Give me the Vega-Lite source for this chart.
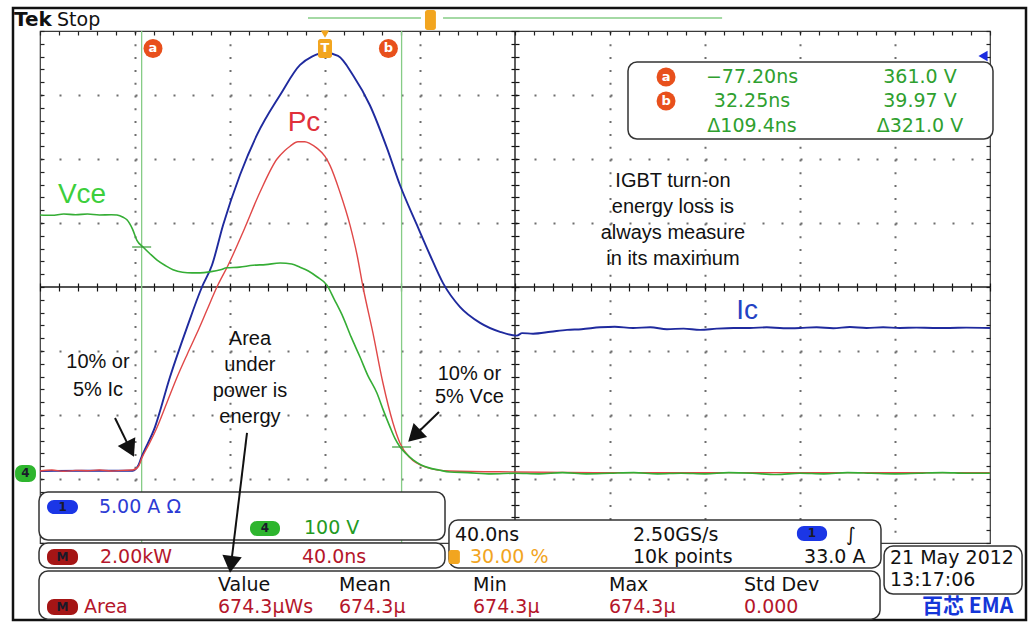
{
  "$schema": "https://vega.github.io/schema/vega-lite/v6.json",
  "width": 950,
  "height": 512,
  "autosize": {"type": "none"},
  "padding": {"left": 40, "top": 31, "right": 42, "bottom": 87},
  "background": "#ffffff",
  "config": {
    "view": {"stroke": "#3a3a3a", "strokeWidth": 1.2},
    "font": "DejaVu Sans",
    "axis": {"title": null, "labels": false, "domain": false, "grid": false, "ticks": true, "tickColor": "#222222", "tickWidth": 1.2, "tickSize": 5}
  },
  "resolve": {"axis": {"x": "independent", "y": "independent"}},
  "datasets": {
    "ic": [
      {"t": -120, "d": -2.875}, {"t": -100, "d": -2.87}, {"t": -81, "d": -2.87}, {"t": -78.5, "d": -2.78}, {"t": -77.5, "d": -2.68},
      {"t": -71.6, "d": -2.19}, {"t": -65.3, "d": -1.41}, {"t": -58.1, "d": -0.63}, {"t": -51.8, "d": 0}, {"t": -47.6, "d": 0.34},
      {"t": -42.9, "d": 0.97}, {"t": -35.8, "d": 1.75}, {"t": -28.6, "d": 2.38}, {"t": -18.9, "d": 3.0}, {"t": -10.5, "d": 3.47},
      {"t": -5.5, "d": 3.6}, {"t": 0, "d": 3.66}, {"t": 5.5, "d": 3.61}, {"t": 11.8, "d": 3.31}, {"t": 18.9, "d": 2.84},
      {"t": 26.1, "d": 2.17}, {"t": 31.6, "d": 1.59}, {"t": 38.7, "d": 0.97}, {"t": 44.2, "d": 0.5}, {"t": 49.7, "d": 0.06},
      {"t": 56.8, "d": -0.31}, {"t": 65.3, "d": -0.56}, {"t": 73.7, "d": -0.7}, {"t": 80.8, "d": -0.76}, {"t": 83, "d": -0.72},
      {"t": 87.6, "d": -0.73}, {"t": 95, "d": -0.7}, {"t": 101.9, "d": -0.67}, {"t": 108, "d": -0.66}, {"t": 115.8, "d": -0.63},
      {"t": 122, "d": -0.62}, {"t": 129.7, "d": -0.64}, {"t": 137, "d": -0.63}, {"t": 144, "d": -0.66}, {"t": 151, "d": -0.65},
      {"t": 157.9, "d": -0.67}, {"t": 165, "d": -0.65}, {"t": 172, "d": -0.64}, {"t": 178.9, "d": -0.64}, {"t": 186, "d": -0.63},
      {"t": 193, "d": -0.645}, {"t": 200, "d": -0.64}, {"t": 207, "d": -0.63}, {"t": 214, "d": -0.645}, {"t": 221, "d": -0.625},
      {"t": 228, "d": -0.64}, {"t": 235, "d": -0.63}, {"t": 242, "d": -0.64}, {"t": 249, "d": -0.635}, {"t": 256, "d": -0.64},
      {"t": 263, "d": -0.64}, {"t": 270, "d": -0.635}, {"t": 280, "d": -0.64}
    ],
    "pc": [
      {"t": -120, "d": -2.875}, {"t": -115, "d": -2.86}, {"t": -110, "d": -2.88}, {"t": -105, "d": -2.865}, {"t": -100, "d": -2.87},
      {"t": -95, "d": -2.86}, {"t": -90, "d": -2.875}, {"t": -85, "d": -2.865}, {"t": -81, "d": -2.86}, {"t": -78.5, "d": -2.8},
      {"t": -77.1, "d": -2.67}, {"t": -74, "d": -2.45}, {"t": -70.7, "d": -2.19}, {"t": -66.5, "d": -1.8}, {"t": -62.3, "d": -1.41},
      {"t": -58, "d": -1.05}, {"t": -53.9, "d": -0.72}, {"t": -49.7, "d": -0.36}, {"t": -45.5, "d": 0}, {"t": -40.8, "d": 0.34},
      {"t": -34.5, "d": 0.86}, {"t": -27.4, "d": 1.48}, {"t": -20.2, "d": 2.0}, {"t": -17, "d": 2.13}, {"t": -14.7, "d": 2.2},
      {"t": -11.4, "d": 2.27}, {"t": -8.5, "d": 2.27}, {"t": -6.3, "d": 2.24}, {"t": -3.4, "d": 2.17}, {"t": 0, "d": 2.04},
      {"t": 2.1, "d": 1.9}, {"t": 6.3, "d": 1.48}, {"t": 10.5, "d": 0.97}, {"t": 13.5, "d": 0.5}, {"t": 16, "d": 0},
      {"t": 20.2, "d": -0.72}, {"t": 24.4, "d": -1.5}, {"t": 28.6, "d": -2.12}, {"t": 31.6, "d": -2.44}, {"t": 35.8, "d": -2.67},
      {"t": 42.1, "d": -2.81}, {"t": 52.6, "d": -2.875}, {"t": 80, "d": -2.89}, {"t": 120, "d": -2.9}, {"t": 160, "d": -2.9},
      {"t": 200, "d": -2.9}, {"t": 240, "d": -2.9}, {"t": 280, "d": -2.9}
    ],
    "vce": [
      {"t": -120, "d": 1.125}, {"t": -115, "d": 1.12}, {"t": -110, "d": 1.14}, {"t": -105, "d": 1.13}, {"t": -100, "d": 1.14},
      {"t": -95, "d": 1.125}, {"t": -90, "d": 1.13}, {"t": -87.6, "d": 1.125}, {"t": -85, "d": 1.09}, {"t": -83.4, "d": 1.05},
      {"t": -81, "d": 0.9}, {"t": -79.2, "d": 0.73}, {"t": -76.6, "d": 0.625}, {"t": -73.7, "d": 0.52}, {"t": -70.7, "d": 0.42},
      {"t": -67, "d": 0.33}, {"t": -64, "d": 0.27}, {"t": -60, "d": 0.23}, {"t": -56, "d": 0.22}, {"t": -52.6, "d": 0.22},
      {"t": -48, "d": 0.24}, {"t": -44, "d": 0.27}, {"t": -41.3, "d": 0.3}, {"t": -36, "d": 0.31}, {"t": -30.3, "d": 0.34},
      {"t": -25, "d": 0.35}, {"t": -18.9, "d": 0.375}, {"t": -14, "d": 0.36}, {"t": -10.5, "d": 0.31}, {"t": -7, "d": 0.25},
      {"t": -3.4, "d": 0.16}, {"t": 0.8, "d": 0.03}, {"t": 4, "d": -0.2}, {"t": 7.6, "d": -0.47}, {"t": 11, "d": -0.78},
      {"t": 14.7, "d": -1.09}, {"t": 18, "d": -1.38}, {"t": 21.9, "d": -1.66}, {"t": 24.5, "d": -1.92}, {"t": 27.4, "d": -2.19},
      {"t": 29.5, "d": -2.37}, {"t": 31.6, "d": -2.5}, {"t": 34, "d": -2.6}, {"t": 37.1, "d": -2.7}, {"t": 40.5, "d": -2.78},
      {"t": 44.2, "d": -2.83}, {"t": 48, "d": -2.86}, {"t": 52.6, "d": -2.89}, {"t": 60, "d": -2.9}, {"t": 70, "d": -2.92},
      {"t": 80, "d": -2.91}, {"t": 90, "d": -2.92}, {"t": 100, "d": -2.9}, {"t": 110, "d": -2.92}, {"t": 120, "d": -2.91},
      {"t": 130, "d": -2.9}, {"t": 140, "d": -2.92}, {"t": 150, "d": -2.91}, {"t": 160, "d": -2.92}, {"t": 170, "d": -2.9},
      {"t": 180, "d": -2.91}, {"t": 190, "d": -2.93}, {"t": 200, "d": -2.91}, {"t": 210, "d": -2.92}, {"t": 220, "d": -2.9},
      {"t": 230, "d": -2.91}, {"t": 240, "d": -2.92}, {"t": 250, "d": -2.91}, {"t": 260, "d": -2.9}, {"t": 270, "d": -2.91},
      {"t": 280, "d": -2.91}
    ]
  },
  "layer": [
    {
      "data": {"values": [{"t1": -131.37, "t2": 295.16, "d1": 4.359, "d2": -5.203}]},
      "mark": {"type": "rect", "fill": "#ffffff", "fillOpacity": 0, "stroke": "#111111", "strokeWidth": 2.5},
      "encoding": {
        "x": {"field": "t1", "type": "quantitative", "scale": {"domain": [-120, 280], "nice": false, "zero": false}, "axis": null},
        "x2": {"field": "t2"},
        "y": {"field": "d1", "type": "quantitative", "scale": {"domain": [-4, 4], "nice": false, "zero": false}, "axis": null},
        "y2": {"field": "d2"}
      }
    },
    {
      "data": {"values": [{"t1": -7.16, "t2": 40.4, "d1": 4.203, "d2": 4.203}, {"t1": 49.7, "t2": 167.2, "d1": 4.203, "d2": 4.203}]},
      "mark": {"type": "rule", "color": "#86cc86", "strokeWidth": 1.5},
      "encoding": {
        "x": {"field": "t1", "type": "quantitative", "scale": {"domain": [-120, 280], "nice": false, "zero": false}, "axis": null},
        "x2": {"field": "t2"},
        "y": {"field": "d1", "type": "quantitative", "scale": {"domain": [-4, 4], "nice": false, "zero": false}, "axis": null},
        "y2": {"field": "d2"}
      }
    },
    {
      "data": {"values": [{"t1": -120, "t2": 280, "d1": 0, "d2": 0}, {"t1": 80, "t2": 80, "d1": 4, "d2": -4}]},
      "mark": {"type": "rule", "color": "#1a1a1a", "strokeWidth": 1.4},
      "encoding": {
        "x": {"field": "t1", "type": "quantitative", "scale": {"domain": [-120, 280], "nice": false, "zero": false}, "axis": null},
        "x2": {"field": "t2"},
        "y": {"field": "d1", "type": "quantitative", "scale": {"domain": [-4, 4], "nice": false, "zero": false},
          "axis": {"orient": "left", "offset": -475, "ticks": true, "tickSize": 4, "tickColor": "#111111", "labels": false, "domain": false, "grid": false, "title": null,
            "values": [-4,-3.8,-3.6,-3.4,-3.2,-3,-2.8,-2.6,-2.4,-2.2,-2,-1.8,-1.6,-1.4,-1.2,-1,-0.8,-0.6,-0.4,-0.2,0,0.2,0.4,0.6,0.8,1,1.2,1.4,1.6,1.8,2,2.2,2.4,2.6,2.8,3,3.2,3.4,3.6,3.8,4]}},
        "y2": {"field": "d2"}
      }
    },
    {
      "data": {"values": [{"t1": -77.2, "t2": -77.2, "d1": 4, "d2": -4}, {"t1": 32.25, "t2": 32.25, "d1": 4, "d2": -4}]},
      "mark": {"type": "rule", "color": "#86cc86", "strokeWidth": 1.3},
      "encoding": {
        "x": {"field": "t1", "type": "quantitative", "scale": {"domain": [-120, 280], "nice": false, "zero": false},
          "axis": {"orient": "top", "offset": -256, "ticks": true, "tickSize": 4, "tickColor": "#111111", "labels": false, "domain": false, "grid": false, "title": null,
            "values": [-120,-112,-104,-96,-88,-80,-72,-64,-56,-48,-40,-32,-24,-16,-8,0,8,16,24,32,40,48,56,64,72,80,88,96,104,112,120,128,136,144,152,160,168,176,184,192,200,208,216,224,232,240,248,256,264,272,280]}},
        "x2": {"field": "t2"},
        "y": {"field": "d1", "type": "quantitative", "scale": {"domain": [-4, 4], "nice": false, "zero": false},
          "axis": {"orient": "right", "offset": -475, "ticks": true, "tickSize": 4, "tickColor": "#111111", "labels": false, "domain": false, "grid": false, "title": null,
            "values": [-4,-3.8,-3.6,-3.4,-3.2,-3,-2.8,-2.6,-2.4,-2.2,-2,-1.8,-1.6,-1.4,-1.2,-1,-0.8,-0.6,-0.4,-0.2,0,0.2,0.4,0.6,0.8,1,1.2,1.4,1.6,1.8,2,2.2,2.4,2.6,2.8,3,3.2,3.4,3.6,3.8,4]}},
        "y2": {"field": "d2"}
      }
    },
    {
      "data": {"name": "ic"},
      "mark": {"type": "line", "color": "#1f2a9e", "strokeWidth": 1.9, "interpolate": "monotone"},
      "encoding": {
        "x": {"field": "t", "type": "quantitative", "scale": {"domain": [-120, 280], "nice": false, "zero": false},
          "axis": {"orient": "bottom", "grid": true, "ticks": false, "labels": false, "domain": false, "title": null,
            "values": [-80, -40, 0, 40, 120, 160, 200, 240], "gridColor": "#6e6e6e", "gridWidth": 2, "gridDash": [2, 10.8]}},
        "y": {"field": "d", "type": "quantitative", "scale": {"domain": [-4, 4], "nice": false, "zero": false},
          "axis": {"orient": "left", "grid": true, "ticks": false, "labels": false, "domain": false, "title": null,
            "values": [-3, -2, -1, 1, 2, 3], "gridColor": "#6e6e6e", "gridWidth": 2, "gridDash": [2, 17]}}
      }
    },
    {
      "data": {"name": "pc"},
      "mark": {"type": "line", "color": "#e04848", "strokeWidth": 1.4, "interpolate": "monotone"},
      "encoding": {
        "x": {"field": "t", "type": "quantitative", "scale": {"domain": [-120, 280], "nice": false, "zero": false},
          "axis": {"orient": "top", "offset": -4, "ticks": true, "tickSize": 4, "labels": false, "domain": false, "grid": false, "title": null,
            "values": [-120,-112,-104,-96,-88,-80,-72,-64,-56,-48,-40,-32,-24,-16,-8,0,8,16,24,32,40,48,56,64,72,80,88,96,104,112,120,128,136,144,152,160,168,176,184,192,200,208,216,224,232,240,248,256,264,272,280]}},
        "y": {"field": "d", "type": "quantitative", "scale": {"domain": [-4, 4], "nice": false, "zero": false},
          "axis": {"orient": "left", "offset": -4, "ticks": true, "tickSize": 4, "labels": false, "domain": false, "grid": false, "title": null,
            "values": [-4,-3.8,-3.6,-3.4,-3.2,-3,-2.8,-2.6,-2.4,-2.2,-2,-1.8,-1.6,-1.4,-1.2,-1,-0.8,-0.6,-0.4,-0.2,0,0.2,0.4,0.6,0.8,1,1.2,1.4,1.6,1.8,2,2.2,2.4,2.6,2.8,3,3.2,3.4,3.6,3.8,4]}}
      }
    },
    {
      "data": {"name": "vce"},
      "mark": {"type": "line", "color": "#35ad35", "strokeWidth": 1.6, "interpolate": "monotone"},
      "encoding": {
        "x": {"field": "t", "type": "quantitative", "scale": {"domain": [-120, 280], "nice": false, "zero": false},
          "axis": {"orient": "bottom", "offset": -256, "ticks": true, "tickSize": 4, "tickColor": "#111111", "labels": false, "domain": false, "grid": false, "title": null,
            "values": [-120,-112,-104,-96,-88,-80,-72,-64,-56,-48,-40,-32,-24,-16,-8,0,8,16,24,32,40,48,56,64,72,80,88,96,104,112,120,128,136,144,152,160,168,176,184,192,200,208,216,224,232,240,248,256,264,272,280]}},
        "y": {"field": "d", "type": "quantitative", "scale": {"domain": [-4, 4], "nice": false, "zero": false},
          "axis": {"orient": "right", "offset": -4, "ticks": true, "tickSize": 4, "labels": false, "domain": false, "grid": false, "title": null,
            "values": [-4,-3.8,-3.6,-3.4,-3.2,-3,-2.8,-2.6,-2.4,-2.2,-2,-1.8,-1.6,-1.4,-1.2,-1,-0.8,-0.6,-0.4,-0.2,0,0.2,0.4,0.6,0.8,1,1.2,1.4,1.6,1.8,2,2.2,2.4,2.6,2.8,3,3.2,3.4,3.6,3.8,4]}}
      }
    },
    {
      "data": {"values": [{"t1": -81.2, "t2": -73.2, "d1": 0.625, "d2": 0.625}, {"t1": 28.25, "t2": 36.25, "d1": -2.5, "d2": -2.5}]},
      "mark": {"type": "rule", "color": "#3a9a3a", "strokeWidth": 1.2},
      "encoding": {
        "x": {"field": "t1", "type": "quantitative", "scale": {"domain": [-120, 280], "nice": false, "zero": false}, "axis": null},
        "x2": {"field": "t2"},
        "y": {"field": "d1", "type": "quantitative", "scale": {"domain": [-4, 4], "nice": false, "zero": false}, "axis": null},
        "y2": {"field": "d2"}
      }
    },
    {
      "data": {"values": [
        {"t1": 127.58, "t2": 281.26, "d1": 3.516, "d2": 2.3125},
        {"t1": -120.42, "t2": 50.53, "d1": -3.203, "d2": -3.953},
        {"t1": -120.42, "t2": 50.53, "d1": -4.0, "d2": -4.39},
        {"t1": -120.42, "t2": 233.7, "d1": -4.4375, "d2": -5.19},
        {"t1": 52.2, "t2": 234.1, "d1": -3.64, "d2": -4.39},
        {"t1": 235.4, "t2": 293.5, "d1": -4.047, "d2": -4.797}
      ]},
      "mark": {"type": "rect", "fill": "#ffffff", "stroke": "#333333", "strokeWidth": 1.5, "cornerRadius": 9},
      "encoding": {
        "x": {"field": "t1", "type": "quantitative", "scale": {"domain": [-120, 280], "nice": false, "zero": false}, "axis": null},
        "x2": {"field": "t2"},
        "y": {"field": "d1", "type": "quantitative", "scale": {"domain": [-4, 4], "nice": false, "zero": false}, "axis": null},
        "y2": {"field": "d2"}
      }
    },
    {
      "data": {"values": [
        {"t1": -2.95, "t2": 2.95, "d1": 3.875, "d2": 3.578},
        {"t1": 42.1, "t2": 46.7, "d1": 4.328, "d2": 4.016},
        {"t1": 52.0, "t2": 56.8, "d1": -4.11, "d2": -4.33}
      ]},
      "mark": {"type": "rect", "fill": "#f2a51f", "cornerRadius": 2.5},
      "encoding": {
        "x": {"field": "t1", "type": "quantitative", "scale": {"domain": [-120, 280], "nice": false, "zero": false}, "axis": null},
        "x2": {"field": "t2"},
        "y": {"field": "d1", "type": "quantitative", "scale": {"domain": [-4, 4], "nice": false, "zero": false}, "axis": null},
        "y2": {"field": "d2"}
      }
    },
    {
      "data": {"values": [{"t": 0, "d": 3.95}]},
      "mark": {"type": "point", "shape": "triangle-down", "filled": true, "size": 70, "color": "#f2a51f", "opacity": 1},
      "encoding": {
        "x": {"field": "t", "type": "quantitative", "scale": {"domain": [-120, 280], "nice": false, "zero": false}, "axis": null},
        "y": {"field": "d", "type": "quantitative", "scale": {"domain": [-4, 4], "nice": false, "zero": false}, "axis": null}
      }
    },
    {
      "data": {"values": [{"t": 277.05, "d": 3.61}]},
      "mark": {"type": "point", "shape": "triangle-left", "filled": true, "size": 110, "color": "#1a2ae0", "opacity": 1},
      "encoding": {
        "x": {"field": "t", "type": "quantitative", "scale": {"domain": [-120, 280], "nice": false, "zero": false}, "axis": null},
        "y": {"field": "d", "type": "quantitative", "scale": {"domain": [-4, 4], "nice": false, "zero": false}, "axis": null}
      }
    },
    {
      "data": {"values": [{"t": -72.42, "d": 3.727}, {"t": 26.7, "d": 3.727}, {"t": 143.6, "d": 3.281}, {"t": 143.6, "d": 2.906}]},
      "mark": {"type": "circle", "size": 360, "color": "#e8501c", "opacity": 1},
      "encoding": {
        "x": {"field": "t", "type": "quantitative", "scale": {"domain": [-120, 280], "nice": false, "zero": false}, "axis": null},
        "y": {"field": "d", "type": "quantitative", "scale": {"domain": [-4, 4], "nice": false, "zero": false}, "axis": null}
      }
    },
    {
      "data": {"values": [
        {"t": -72.42, "d": 3.727, "s": "a"}, {"t": 26.7, "d": 3.727, "s": "b"},
        {"t": 143.6, "d": 3.281, "s": "a"}, {"t": 143.6, "d": 2.906, "s": "b"}, {"t": 0, "d": 3.727, "s": "T"}
      ]},
      "mark": {"type": "text", "font": "DejaVu Sans", "fontSize": 13, "fontWeight": "bold", "color": "#ffffff", "align": "center", "baseline": "middle"},
      "encoding": {
        "x": {"field": "t", "type": "quantitative", "scale": {"domain": [-120, 280], "nice": false, "zero": false}, "axis": null},
        "y": {"field": "d", "type": "quantitative", "scale": {"domain": [-4, 4], "nice": false, "zero": false}, "axis": null},
        "text": {"field": "s"}
      }
    },
    {
      "data": {"values": [
        {"t": 179.8, "d": 3.281, "s": "−77.20ns"}, {"t": 250.5, "d": 3.281, "s": "361.0 V"},
        {"t": 179.8, "d": 2.906, "s": "32.25ns"}, {"t": 250.5, "d": 2.906, "s": "39.97 V"},
        {"t": 179.8, "d": 2.516, "s": "Δ109.4ns"}, {"t": 250.5, "d": 2.516, "s": "Δ321.0 V"}
      ]},
      "mark": {"type": "text", "font": "DejaVu Sans", "fontSize": 19, "color": "#2fa02f", "align": "center", "baseline": "middle"},
      "encoding": {
        "x": {"field": "t", "type": "quantitative", "scale": {"domain": [-120, 280], "nice": false, "zero": false}, "axis": null},
        "y": {"field": "d", "type": "quantitative", "scale": {"domain": [-4, 4], "nice": false, "zero": false}, "axis": null},
        "text": {"field": "s"}
      }
    },
    {
      "data": {"values": [
        {"t": -102.3, "d": 1.4375, "s": "Vce", "ch": "VceLabel"},
        {"t": -8.84, "d": 2.5625, "s": "Pc", "ch": "PcLabel"},
        {"t": 177.7, "d": -0.375, "s": "Ic", "ch": "IcLabel"}
      ]},
      "mark": {"type": "text", "font": "Liberation Sans", "fontSize": 28, "align": "center", "baseline": "middle"},
      "encoding": {
        "x": {"field": "t", "type": "quantitative", "scale": {"domain": [-120, 280], "nice": false, "zero": false}, "axis": null},
        "y": {"field": "d", "type": "quantitative", "scale": {"domain": [-4, 4], "nice": false, "zero": false}, "axis": null},
        "text": {"field": "s"},
        "color": {"field": "ch", "type": "nominal", "legend": null,
          "scale": {"domain": ["ch1", "ch4", "math", "plain", "trig", "IcLabel", "PcLabel", "VceLabel"],
            "range": ["#2c3bd4", "#239a23", "#b5162b", "#111111", "#f2a51f", "#2442c4", "#e0303a", "#3ccf3c"]}}
      }
    },
    {
      "data": {"values": [
        {"t": 146.5, "d": 1.656, "s": "IGBT turn-on"},
        {"t": 146.5, "d": 1.25, "s": "energy loss is"},
        {"t": 146.5, "d": 0.844, "s": "always measure"},
        {"t": 146.5, "d": 0.4375, "s": "in its maximum"},
        {"t": -95.6, "d": -1.17, "s": "10% or"},
        {"t": -95.6, "d": -1.61, "s": "5% Ic"},
        {"t": -31.6, "d": -0.8125, "s": "Area"},
        {"t": -31.6, "d": -1.219, "s": "under"},
        {"t": -31.6, "d": -1.625, "s": "power is"},
        {"t": -31.6, "d": -2.031, "s": "energy"},
        {"t": 60.8, "d": -1.36, "s": "10% or"},
        {"t": 60.8, "d": -1.72, "s": "5% Vce"}
      ]},
      "mark": {"type": "text", "font": "Liberation Sans", "fontSize": 20, "color": "#111111", "align": "center", "baseline": "middle"},
      "encoding": {
        "x": {"field": "t", "type": "quantitative", "scale": {"domain": [-120, 280], "nice": false, "zero": false}, "axis": null},
        "y": {"field": "d", "type": "quantitative", "scale": {"domain": [-4, 4], "nice": false, "zero": false}, "axis": null},
        "text": {"field": "s"}
      }
    },
    {
      "data": {"values": [
        {"t1": -88.42, "t2": -82.53, "d1": -2.047, "d2": -2.495},
        {"t1": 48.0, "t2": 38.44, "d1": -1.953, "d2": -2.297},
        {"t1": -32.84, "t2": -39.41, "d1": -2.281, "d2": -4.291}
      ]},
      "mark": {"type": "rule", "color": "#111111", "strokeWidth": 2},
      "encoding": {
        "x": {"field": "t1", "type": "quantitative", "scale": {"domain": [-120, 280], "nice": false, "zero": false}, "axis": null},
        "x2": {"field": "t2"},
        "y": {"field": "d1", "type": "quantitative", "scale": {"domain": [-4, 4], "nice": false, "zero": false}, "axis": null},
        "y2": {"field": "d2"}
      }
    },
    {
      "data": {"values": [
        {"t": -82.53, "d": -2.495, "dir": 154},
        {"t": 38.44, "d": -2.297, "dir": 226},
        {"t": -39.41, "d": -4.291, "dir": 187}
      ]},
      "mark": {"type": "point", "shape": "triangle", "filled": true, "size": 380, "color": "#111111", "opacity": 1},
      "encoding": {
        "x": {"field": "t", "type": "quantitative", "scale": {"domain": [-120, 280], "nice": false, "zero": false}, "axis": null},
        "y": {"field": "d", "type": "quantitative", "scale": {"domain": [-4, 4], "nice": false, "zero": false}, "axis": null},
        "angle": {"field": "dir", "type": "quantitative", "scale": null}
      }
    },
    {
      "data": {"values": [
        {"t1": -117.05, "t2": -104.0, "d1": -3.328, "d2": -3.547, "ch": "ch1"},
        {"t1": -31.58, "t2": -18.95, "d1": -3.656, "d2": -3.89, "ch": "ch4"},
        {"t1": -117.05, "t2": -104.0, "d1": -4.094, "d2": -4.344, "ch": "math"},
        {"t1": -117.05, "t2": -104.0, "d1": -4.875, "d2": -5.125, "ch": "math"},
        {"t1": 198.7, "t2": 211.4, "d1": -3.734, "d2": -3.969, "ch": "ch1"},
        {"t1": -130.5, "t2": -121.7, "d1": -2.78, "d2": -3.047, "ch": "ch4"}
      ]},
      "mark": {"type": "rect", "cornerRadius": 7},
      "encoding": {
        "x": {"field": "t1", "type": "quantitative", "scale": {"domain": [-120, 280], "nice": false, "zero": false}, "axis": null},
        "x2": {"field": "t2"},
        "y": {"field": "d1", "type": "quantitative", "scale": {"domain": [-4, 4], "nice": false, "zero": false}, "axis": null},
        "y2": {"field": "d2"},
        "fill": {"field": "ch", "type": "nominal", "legend": null,
          "scale": {"domain": ["ch1", "ch4", "math"], "range": ["#1b36e6", "#2eb52e", "#a51515"]}}
      }
    },
    {
      "data": {"values": [
        {"t": -110.5, "d": -3.44, "s": "1"}, {"t": -25.26, "d": -3.77, "s": "4"},
        {"t": -110.5, "d": -4.22, "s": "M"}, {"t": -110.5, "d": -5.0, "s": "M"},
        {"t": 205, "d": -3.85, "s": "1"}, {"t": -126.1, "d": -2.91, "s": "4"}
      ]},
      "mark": {"type": "text", "font": "DejaVu Sans", "fontSize": 12, "fontWeight": "bold", "color": "#1a1a2a", "align": "center", "baseline": "middle"},
      "encoding": {
        "x": {"field": "t", "type": "quantitative", "scale": {"domain": [-120, 280], "nice": false, "zero": false}, "axis": null},
        "y": {"field": "d", "type": "quantitative", "scale": {"domain": [-4, 4], "nice": false, "zero": false}, "axis": null},
        "text": {"field": "s"}
      }
    },
    {
      "data": {"values": [
        {"t": -95.16, "d": -3.4375, "s": "5.00 A  Ω", "ch": "ch1"},
        {"t": -8.84, "d": -3.766, "s": "100 V", "ch": "ch4"},
        {"t": -94.74, "d": -4.219, "s": "2.00kW", "ch": "math"},
        {"t": -9.68, "d": -4.219, "s": "40.0ns", "ch": "math"},
        {"t": -45.05, "d": -4.656, "s": "Value", "ch": "plain"},
        {"t": 5.89, "d": -4.656, "s": "Mean", "ch": "plain"},
        {"t": 62.32, "d": -4.656, "s": "Min", "ch": "plain"},
        {"t": 119.58, "d": -4.656, "s": "Max", "ch": "plain"},
        {"t": 176.42, "d": -4.656, "s": "Std Dev", "ch": "plain"},
        {"t": -101.47, "d": -5.0, "s": "Area", "ch": "math"},
        {"t": -45.05, "d": -5.0, "s": "674.3μWs", "ch": "math"},
        {"t": 5.89, "d": -5.0, "s": "674.3μ", "ch": "math"},
        {"t": 62.32, "d": -5.0, "s": "674.3μ", "ch": "math"},
        {"t": 119.58, "d": -5.0, "s": "674.3μ", "ch": "math"},
        {"t": 176.42, "d": -5.0, "s": "0.000", "ch": "math"},
        {"t": 54.74, "d": -3.875, "s": "40.0ns", "ch": "plain"},
        {"t": 129.68, "d": -3.875, "s": "2.50GS/s", "ch": "plain"},
        {"t": 219.4, "d": -3.875, "s": "∫", "ch": "plain"},
        {"t": 61.05, "d": -4.219, "s": "30.00 %", "ch": "trig"},
        {"t": 129.68, "d": -4.219, "s": "10k points", "ch": "plain"},
        {"t": 201.7, "d": -4.219, "s": "33.0 A", "ch": "plain"},
        {"t": 237.9, "d": -4.234, "s": "21 May 2012", "ch": "plain"},
        {"t": 237.9, "d": -4.578, "s": "13:17:06", "ch": "plain"}
      ]},
      "mark": {"type": "text", "font": "DejaVu Sans", "fontSize": 19, "align": "left", "baseline": "middle"},
      "encoding": {
        "x": {"field": "t", "type": "quantitative", "scale": {"domain": [-120, 280], "nice": false, "zero": false}, "axis": null},
        "y": {"field": "d", "type": "quantitative", "scale": {"domain": [-4, 4], "nice": false, "zero": false}, "axis": null},
        "text": {"field": "s"},
        "color": {"field": "ch", "type": "nominal", "legend": null,
          "scale": {"domain": ["ch1", "ch4", "math", "plain", "trig", "IcLabel", "PcLabel", "VceLabel"],
            "range": ["#2c3bd4", "#239a23", "#b5162b", "#111111", "#f2a51f", "#2442c4", "#e0303a", "#3ccf3c"]}}
      }
    },
    {
      "data": {"values": [{"t": -130.95, "d": 4.172, "s": "Tek"}]},
      "mark": {"type": "text", "font": "DejaVu Sans", "fontSize": 20, "fontWeight": "bold", "color": "#111111", "align": "left", "baseline": "middle"},
      "encoding": {
        "x": {"field": "t", "type": "quantitative", "scale": {"domain": [-120, 280], "nice": false, "zero": false}, "axis": null},
        "y": {"field": "d", "type": "quantitative", "scale": {"domain": [-4, 4], "nice": false, "zero": false}, "axis": null},
        "text": {"field": "s"}
      }
    },
    {
      "data": {"values": [{"t": -112.84, "d": 4.172, "s": "Stop"}]},
      "mark": {"type": "text", "font": "DejaVu Sans", "fontSize": 19, "color": "#111111", "align": "left", "baseline": "middle"},
      "encoding": {
        "x": {"field": "t", "type": "quantitative", "scale": {"domain": [-120, 280], "nice": false, "zero": false}, "axis": null},
        "y": {"field": "d", "type": "quantitative", "scale": {"domain": [-4, 4], "nice": false, "zero": false}, "axis": null},
        "text": {"field": "s"}
      }
    },
    {
      "data": {"values": [{"t": 251.4, "d": -5.0, "s": "百芯 EMA"}]},
      "mark": {"type": "text", "font": "Noto Sans CJK SC", "fontSize": 21, "fontWeight": "bold", "color": "#1536d8", "align": "left", "baseline": "middle"},
      "encoding": {
        "x": {"field": "t", "type": "quantitative", "scale": {"domain": [-120, 280], "nice": false, "zero": false}, "axis": null},
        "y": {"field": "d", "type": "quantitative", "scale": {"domain": [-4, 4], "nice": false, "zero": false}, "axis": null},
        "text": {"field": "s"}
      }
    }
  ]
}
